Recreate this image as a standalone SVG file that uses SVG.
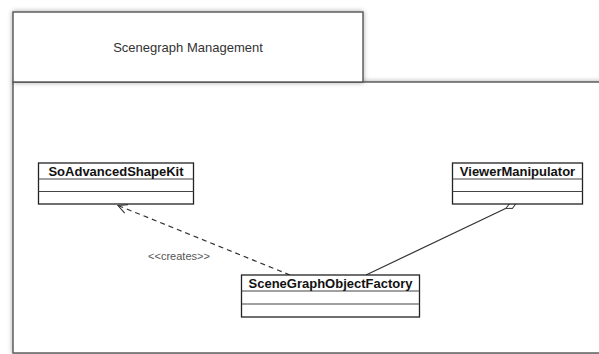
<svg xmlns="http://www.w3.org/2000/svg" width="599" height="354" viewBox="0 0 599 354">
  <defs>
    <filter id="shadow" x="-10%" y="-10%" width="120%" height="120%">
      <feGaussianBlur in="SourceAlpha" stdDeviation="2.5"/>
      <feComponentTransfer><feFuncA type="linear" slope="0.35"/></feComponentTransfer>
      <feMerge><feMergeNode/><feMergeNode in="SourceGraphic"/></feMerge>
    </filter>
    <marker id="open-arrow" markerWidth="12" markerHeight="12" refX="10" refY="6" orient="auto" markerUnits="userSpaceOnUse">
      <path d="M1,1.5 L10,6 L1,10.5" fill="none" stroke="#333" stroke-width="1.1"/>
    </marker>
    <marker id="hollow-diamond" markerWidth="14" markerHeight="10" refX="12" refY="5" orient="auto" markerUnits="userSpaceOnUse">
      <path d="M1,5 L6.5,2 L12,5 L6.5,8 Z" fill="#fff" stroke="#333" stroke-width="1"/>
    </marker>
  </defs>
  <style>
    .pkg { fill: #fff; stroke: #555; stroke-width: 1.4; }
    .cls { fill: #fff; stroke: #222; stroke-width: 1.3; }
    .sep { stroke: #444; stroke-width: 1.2; }
    .name { font-family: "Liberation Sans", Arial, sans-serif; font-size: 13px; font-weight: bold; fill: #111; text-anchor: middle; }
    .title { font-family: "Liberation Sans", Arial, sans-serif; font-size: 13px; fill: #333; text-anchor: middle; }
    .label { font-family: "Liberation Sans", Arial, sans-serif; font-size: 11px; fill: #555; text-anchor: middle; }
    .dep { fill: none; stroke: #333; stroke-width: 1.2; stroke-dasharray: 5 4; }
    .assoc { fill: none; stroke: #333; stroke-width: 1.2; }
  </style>

  <!-- package frame -->
  <g id="package">
    <rect class="pkg" x="13" y="82" width="600" height="271" filter="url(#shadow)"/>
    <rect class="pkg" x="13" y="12" width="350" height="70" filter="url(#shadow)"/>
    <text class="title" x="188" y="52">Scenegraph Management</text>
  </g>

  <!-- connectors -->
  <g id="connectors">
    <line class="dep" x1="290" y1="275" x2="118" y2="205.5" marker-end="url(#open-arrow)"/>
    <text class="label" x="179" y="259.5">&lt;&lt;creates&gt;&gt;</text>
    <line class="assoc" x1="366" y1="275" x2="516" y2="203.5" marker-end="url(#hollow-diamond)"/>
  </g>

  <g id="SoAdvancedShapeKit">
    <rect class="cls" x="38.5" y="163" width="155" height="41"/>
    <line class="sep" x1="38.5" y1="179" x2="193.5" y2="179"/>
    <line class="sep" x1="38.5" y1="191.5" x2="193.5" y2="191.5"/>
    <text class="name" x="116" y="175.5">SoAdvancedShapeKit</text>
  </g>

  <g id="ViewerManipulator">
    <rect class="cls" x="452.5" y="163" width="130" height="41"/>
    <line class="sep" x1="452.5" y1="179" x2="582.5" y2="179"/>
    <line class="sep" x1="452.5" y1="191.5" x2="582.5" y2="191.5"/>
    <text class="name" x="517.5" y="175.5">ViewerManipulator</text>
  </g>

  <g id="SceneGraphObjectFactory">
    <rect class="cls" x="241.5" y="275" width="178" height="42"/>
    <line class="sep" x1="241.5" y1="291" x2="419.5" y2="291"/>
    <line class="sep" x1="241.5" y1="304" x2="419.5" y2="304"/>
    <text class="name" x="330.5" y="287.5">SceneGraphObjectFactory</text>
  </g>
</svg>
